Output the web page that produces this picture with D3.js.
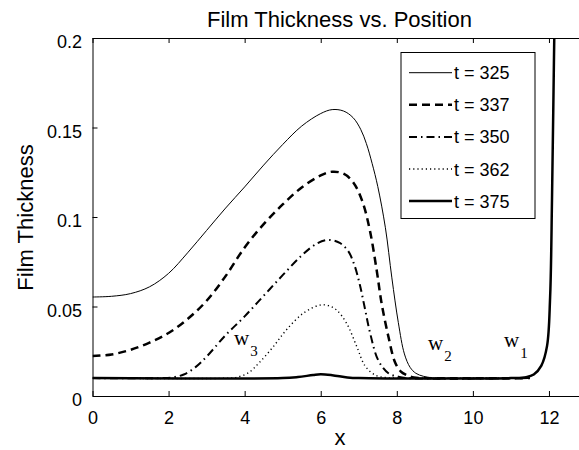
<!DOCTYPE html>
<html>
<head>
<meta charset="utf-8">
<script src="https://cdn.jsdelivr.net/npm/d3@7"></script>
<style>
  body { margin: 0; background: #fff; }
  text { font-family: "Liberation Sans", Arial, Helvetica, sans-serif; fill: #000; }
</style>
</head>
<body>
<svg id="chart" width="579" height="450"></svg>
<script>
// values
const times = [325, 337, 350, 362, 375];

const x325 = [0, 0.5, 1, 1.5, 2, 2.5, 3, 3.5, 4, 4.5, 5, 5.5, 6, 6.3, 6.6, 6.85, 7.05, 7.2, 7.35, 7.5, 7.7, 7.87, 8.04, 8.2, 8.35, 8.5, 8.7, 8.9, 9.1, 11.5];
const h325 = [0.0553, 0.0557, 0.0572, 0.061, 0.0685, 0.080, 0.0925, 0.105, 0.1168, 0.129, 0.1405, 0.1508, 0.1578, 0.160, 0.1592, 0.1555, 0.149, 0.141, 0.130, 0.117, 0.094, 0.066, 0.041, 0.0235, 0.016, 0.0127, 0.011, 0.0102, 0.010, 0.010];

const x337 = [0, 0.5, 1, 1.5, 2, 2.5, 3, 3.5, 4, 4.5, 5, 5.5, 6, 6.3, 6.6, 6.85, 7.09, 7.29, 7.47, 7.6, 7.78, 7.95, 8.1, 8.26, 8.45, 8.7, 11.5];
const h337 = [0.0223, 0.0232, 0.0258, 0.0298, 0.0352, 0.0430, 0.0532, 0.0670, 0.0830, 0.0960, 0.1070, 0.1165, 0.1232, 0.1253, 0.1242, 0.1195, 0.1090, 0.0927, 0.0704, 0.0518, 0.0331, 0.0190, 0.0138, 0.0117, 0.0104, 0.010, 0.010];

const x350 = [0, 1.8, 2.1, 2.4, 2.7, 3.0, 3.5, 4.0, 4.5, 5.0, 5.5, 5.9, 6.2, 6.5, 6.72, 6.88, 7.03, 7.16, 7.3, 7.51, 7.78, 8.04, 8.3, 11.5];
const h350 = [0.010, 0.010, 0.0104, 0.012, 0.016, 0.022, 0.034, 0.0445, 0.0560, 0.0675, 0.0785, 0.0852, 0.0872, 0.0855, 0.0810, 0.0735, 0.062, 0.049, 0.035, 0.0201, 0.0127, 0.0108, 0.010, 0.010];

const x362 = [0, 3.6, 3.8, 4.1, 4.4, 4.75, 5.1, 5.54, 5.98, 6.2, 6.42, 6.68, 6.95, 7.16, 7.43, 7.7, 8.0, 11.5];
const h362 = [0.010, 0.010, 0.0105, 0.013, 0.019, 0.0275, 0.037, 0.0462, 0.0508, 0.0505, 0.048, 0.0406, 0.0275, 0.0170, 0.0117, 0.0103, 0.010, 0.010];

const x375 = [0, 5.0, 5.4, 5.8, 6.0, 6.3, 6.7, 7.0, 11.0, 11.4, 11.6, 11.8, 11.95, 12.03, 12.08, 12.13, 12.18];
const h375 = [0.010, 0.010, 0.0106, 0.0117, 0.0121, 0.0116, 0.0104, 0.010, 0.010, 0.0105, 0.012, 0.017, 0.028, 0.055, 0.11, 0.186, 0.26];

const xTicks = [0, 2, 4, 6, 8, 10, 12];
const yTicks = [0, 0.05, 0.1, 0.15, 0.2];

const marks = [
  { text: "w", sub: "3", x: 3.72, y: 0.0285 },
  { text: "w", sub: "2", x: 8.82, y: 0.0257 },
  { text: "w", sub: "1", x: 10.82, y: 0.0274 }
];

const series = [
  { t: times[0], xs: x325, hs: h325, width: 1, dash: null },
  { t: times[1], xs: x337, hs: h337, width: 2.5, dash: "8,5" },
  { t: times[2], xs: x350, hs: h350, width: 2, dash: "8,4,1.5,4" },
  { t: times[3], xs: x362, hs: h362, width: 1.4, dash: "1.2,3" },
  { t: times[4], xs: x375, hs: h375, width: 2.5, dash: null }
];

const svg = d3.select("#chart");
const mLeft = 92.5, mRight = 587, mTop = 38, mBottom = 396;

const x = d3.scaleLinear().domain([0, 13]).range([mLeft, mRight]);
const y = d3.scaleLinear().domain([0, 0.2]).range([mBottom, mTop]);

svg.append("defs").append("clipPath").attr("id", "plot")
  .append("rect")
  .attr("x", mLeft).attr("y", mTop)
  .attr("width", mRight - mLeft).attr("height", mBottom - mTop);

const line = d3.line()
  .x(d => x(d[0]))
  .y(d => y(d[1]))
  .curve(d3.curveCatmullRom.alpha(0.5));

svg.append("g")
  .attr("clip-path", "url(#plot)")
  .selectAll("path")
  .data(series)
  .join("path")
  .attr("d", d => line(d3.zip(d.xs, d.hs)))
  .attr("fill", "none")
  .attr("stroke", "#000")
  .attr("stroke-width", d => d.width)
  .attr("stroke-dasharray", d => d.dash);

// axes, ticks pointing inward
const gx = svg.append("g")
  .attr("transform", `translate(0,${mBottom})`)
  .call(d3.axisBottom(x).tickValues(xTicks).tickSizeInner(-5).tickSizeOuter(0));
gx.selectAll("text").attr("y", 28).attr("dy", null).style("font-size", "18px");

svg.append("g")
  .attr("transform", `translate(0,${mTop})`)
  .call(d3.axisTop(x).tickValues(xTicks).tickSizeInner(-5).tickSizeOuter(0).tickFormat(""));

const gy = svg.append("g")
  .attr("transform", `translate(${mLeft},0)`)
  .call(d3.axisLeft(y).tickValues(yTicks).tickSizeInner(-5).tickSizeOuter(0).tickFormat(d3.format("")));
gy.selectAll("text").attr("x", -10.5).attr("y", 9.5).attr("dy", null).style("font-size", "18px");

svg.selectAll(".domain").attr("stroke", "#000");
svg.selectAll(".tick line").attr("stroke", "#000");
svg.selectAll(".tick text").attr("fill", "#000").style("font-family", "\"Liberation Sans\", Arial, sans-serif");

// title and axis labels
svg.append("text")
  .attr("x", 339.5).attr("y", 27)
  .attr("text-anchor", "middle")
  .style("font-size", "22px")
  .text("Film Thickness vs. Position");

svg.append("text")
  .attr("x", 340).attr("y", 445)
  .attr("text-anchor", "middle")
  .style("font-size", "22px")
  .text("x");

svg.append("text")
  .attr("transform", "translate(33,217.5) rotate(-90)")
  .attr("text-anchor", "middle")
  .style("font-size", "22px")
  .text("Film Thickness");

// w labels
const lab = svg.append("g").selectAll("text")
  .data(marks)
  .join("text")
  .attr("x", d => x(d.x))
  .attr("y", d => y(d.y))
  .style("font-family", "\"Liberation Serif\", \"Times New Roman\", serif")
  .style("font-size", "21px");
lab.append("tspan").text(d => d.text);
lab.append("tspan")
  .attr("dx", 1).attr("dy", 11)
  .style("font-size", "15px")
  .text(d => d.sub);

// legend
const lg = svg.append("g");
lg.append("rect")
  .attr("x", 401).attr("y", 52.5)
  .attr("width", 134).attr("height", 166)
  .attr("fill", "#fff").attr("stroke", "#000").attr("stroke-width", 1);

const rows = lg.selectAll("g.row")
  .data(series)
  .join("g")
  .attr("class", "row")
  .attr("transform", (d, i) => `translate(0,${72.7 + i * 32.1})`);
rows.append("line")
  .attr("x1", 409).attr("x2", 452)
  .attr("stroke", "#000")
  .attr("stroke-width", d => d.width)
  .attr("stroke-dasharray", d => d.dash);
rows.append("text")
  .attr("x", 454).attr("y", 6.5)
  .style("font-size", "18px")
  .text(d => `t = ${d.t}`);
</script>
</body>
</html>
